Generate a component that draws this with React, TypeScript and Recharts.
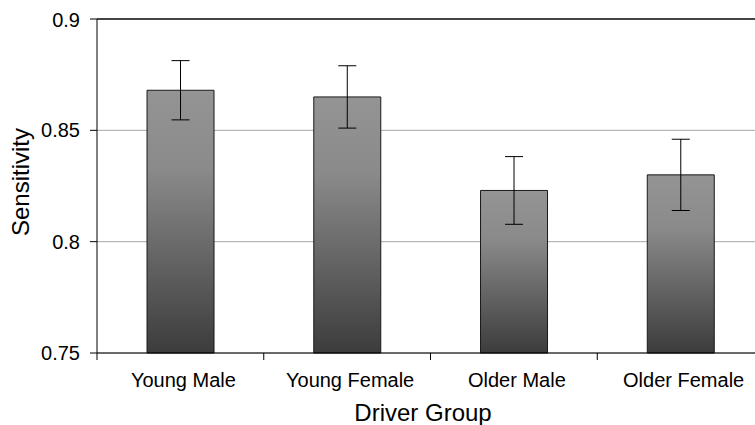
import React from 'react';
import { Bar, BarChart, CartesianGrid, ErrorBar, ReferenceLine, XAxis, YAxis } from 'recharts';

const groups = ['Young Male', 'Young Female', 'Older Male', 'Older Female'];
const sensitivity = [0.868, 0.865, 0.823, 0.83];
const errors = [0.0133, 0.014, 0.0152, 0.016];
const yTicks = [0.75, 0.8, 0.85, 0.9];

const data = groups.map((group, i) => ({ group, value: sensitivity[i], err: errors[i] }));

const WIDTH = 760;
const HEIGHT = 417;
const MARGIN = { top: 11, right: 4, left: 0, bottom: 0 };
const Y_AXIS_WIDTH = 89;
const X_AXIS_HEIGHT = 72;
const FONT = 'Arial, "Liberation Sans", sans-serif';

const plotWidth = WIDTH - MARGIN.left - MARGIN.right - Y_AXIS_WIDTH;
const band = plotWidth / groups.length;
const axisY = HEIGHT - MARGIN.bottom - X_AXIS_HEIGHT;

const GroupTick = (props: any) => {
  const { x, payload } = props;
  return (
    <g>
      <line x1={x - band / 2} x2={x - band / 2} y1={axisY} y2={axisY + 7} stroke="#000" />
      <text x={x + 3} y={axisY + 34} textAnchor="middle" fontSize={20} fontFamily={FONT} fill="#000">
        {payload.value}
      </text>
    </g>
  );
};

const App = () => {
  return (
    <div style={{ position: 'absolute', top: 8, left: 8, width: 747, height: HEIGHT, overflow: 'hidden' }}>
      <BarChart width={WIDTH} height={HEIGHT} data={data} margin={MARGIN} barCategoryGap="30%">
        <defs>
          <linearGradient id="barFill" x1="0" y1="0" x2="0" y2="1">
            <stop offset="0%" stopColor="#949494" />
            <stop offset="30%" stopColor="#8a8a8a" />
            <stop offset="100%" stopColor="#3c3c3c" />
          </linearGradient>
        </defs>
        <CartesianGrid vertical={false} stroke="#a8a8a8" />
        <XAxis
          dataKey="group"
          height={X_AXIS_HEIGHT}
          tickLine={false}
          axisLine={{ stroke: '#000' }}
          tick={<GroupTick />}
          interval={0}
          label={{
            content: () => (
              <text x={415} y={axisY + 68} textAnchor="middle" fontSize={24} fontFamily={FONT} fill="#000">
                Driver Group
              </text>
            ),
          }}
        />
        <YAxis
          width={Y_AXIS_WIDTH}
          domain={[0.75, 0.9]}
          ticks={yTicks}
          tickSize={7}
          tickMargin={10}
          axisLine={{ stroke: '#000' }}
          tickLine={{ stroke: '#000' }}
          tick={{ fontSize: 20, fill: '#000', fontFamily: FONT }}
          label={{
            content: () => (
              <text
                x={21}
                y={174}
                transform="rotate(-90 21 174)"
                textAnchor="middle"
                fontSize={24}
                fontFamily={FONT}
                fill="#000"
              >
                Sensitivity
              </text>
            ),
          }}
        />
        <ReferenceLine y={0.9} stroke="#444" strokeWidth={2} />
        <Bar dataKey="value" fill="url(#barFill)" stroke="#1a1a1a" strokeWidth={1} isAnimationActive={false}>
          <ErrorBar dataKey="err" width={9} stroke="#000" strokeWidth={1} />
        </Bar>
      </BarChart>
    </div>
  );
};

export default App;
